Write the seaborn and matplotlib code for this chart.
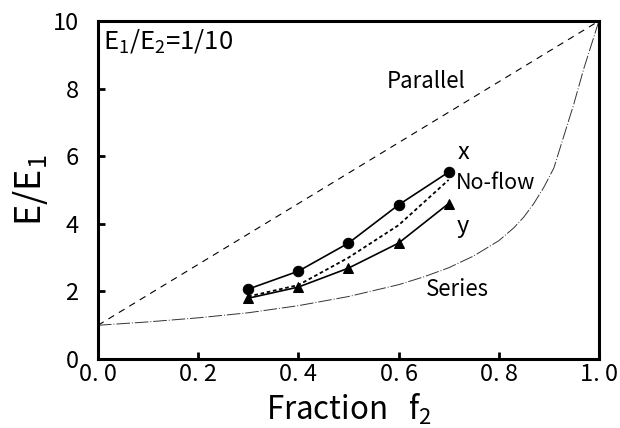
import numpy as np
import pandas as pd
import matplotlib
matplotlib.use("Agg")
import matplotlib.pyplot as plt
import seaborn as sns

# measured points (f2, E/E1)
frac = [0.3, 0.4, 0.5, 0.6, 0.7]
e_x = [2.07, 2.60, 3.43, 4.56, 5.53]
e_y = [1.80, 2.13, 2.69, 3.43, 4.60]
e_noflow = [1.85, 2.19, 3.00, 3.96, 5.30]

# bounds
par_f = [0.0, 1.0]
par_e = [1.0, 10.0]
ser_f = [0.0, 0.1, 0.2, 0.3, 0.4, 0.5, 0.6, 0.65, 0.7, 0.75, 0.8, 0.83, 0.85,
         0.87, 0.89, 0.91, 0.93, 0.95, 0.97, 0.985, 1.0]
ser_e = [1.0, 1.1, 1.22, 1.37, 1.58, 1.85, 2.2, 2.43, 2.7, 3.05, 3.5, 3.88, 4.2,
         4.6, 5.08, 5.65, 6.6, 7.55, 8.6, 9.3, 10.0]

xticks = [0.0, 0.2, 0.4, 0.6, 0.8, 1.0]
xticklabels = ["0. 0", "0. 2", "0. 4", "0. 6", "0. 8", "1. 0"]
yticks = [0, 2, 4, 6, 8, 10]

sns.set_style("ticks")
plt.rcParams['font.family'] = ['Noto Sans CJK JP', 'DejaVu Sans']
plt.rcParams['mathtext.fontset'] = 'custom'
plt.rcParams['mathtext.rm'] = 'Noto Sans CJK JP'
plt.rcParams['text.color'] = 'black'
plt.rcParams['axes.labelcolor'] = 'black'
plt.rcParams['xtick.color'] = 'black'
plt.rcParams['ytick.color'] = 'black'
plt.rcParams['axes.edgecolor'] = 'black'

fig = plt.figure(figsize=(6.2, 4.28), dpi=100)
ax = fig.add_axes([0.158, 0.161, 0.808, 0.790])

par_df = pd.DataFrame({'f': par_f, 'E': par_e})
ser_df = pd.DataFrame({'f': ser_f, 'E': ser_e})
data_df = pd.DataFrame({'f': frac, 'x': e_x, 'y': e_y, 'nf': e_noflow})

sns.lineplot(data=par_df, x='f', y='E', ax=ax, color='black', lw=0.8,
             linestyle=(0, (6, 5)))
sns.lineplot(data=ser_df, x='f', y='E', ax=ax, color='#333333', lw=0.7,
             linestyle=(0, (14, 2, 1, 2)))
sns.lineplot(data=data_df, x='f', y='nf', ax=ax, color='black', lw=1.3,
             linestyle=(0, (2, 1.5)))
sns.lineplot(data=data_df, x='f', y='x', ax=ax, color='black', lw=1.2,
             marker='o', markersize=7.5, markeredgecolor='black')
sns.lineplot(data=data_df, x='f', y='y', ax=ax, color='black', lw=1.2,
             marker='^', markersize=7.5, markeredgecolor='black')

ax.set_xlim(0, 1)
ax.set_ylim(0, 10)
ax.set_xticks(xticks)
ax.set_xticklabels(xticklabels)
ax.set_yticks(yticks)
ax.tick_params(direction='in', length=5, width=2, labelsize=17)
ax.tick_params(axis='x', pad=3)
ax.tick_params(axis='y', pad=14)
for s in ax.spines.values():
    s.set_linewidth(2.2)

ax.set_xlabel(r"Fraction   $\mathregular{f_2}$", fontsize=22.5, labelpad=4)
ax.set_ylabel(r"$\mathregular{E/E_1}$", fontsize=26, labelpad=2)

ax.text(0.01, 9.82, r"$\mathregular{E_1/E_2}$=1/10", fontsize=18.5, va='top', ha='left')
ax.text(0.655, 8.22, "Parallel", fontsize=16, ha='center', va='center')
ax.text(0.729, 6.12, "x", fontsize=17, ha='center', va='center')
ax.text(0.715, 5.2, "No-flow", fontsize=15.5, ha='left', va='center')
ax.text(0.729, 3.93, "y", fontsize=17, ha='center', va='center')
ax.text(0.655, 2.07, "Series", fontsize=16, ha='left', va='center')

fig.savefig("out.png", dpi=100)
